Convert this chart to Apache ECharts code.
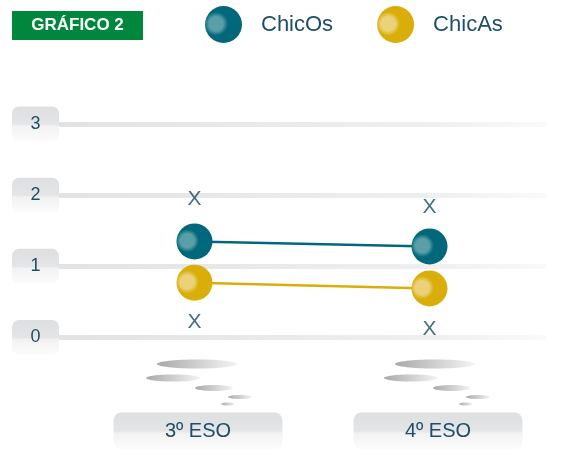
<!DOCTYPE html>
<html>
<head>
<meta charset="utf-8">
<script src="https://cdn.jsdelivr.net/npm/echarts@6/dist/echarts.min.js"></script>
<style>
  html, body { margin: 0; padding: 0; background: #fff; }
  #chart { width: 561px; height: 451px; }
</style>
</head>
<body>
<div id="chart"></div>
<script>
// data
const cursos = ['3º ESO', '4º ESO']
const chicos = [1.35, 1.28]
const chicas = [0.77, 0.69]
const limSup = [1.94, 1.83]
const limInf = [0.22, 0.11]

const FONT = "'Liberation Sans Narrow', 'Liberation Sans', Arial, sans-serif"
const TXT = '#1e4f64'
const TEAL = '#00687a'
const GOLD = '#d9ae08'

const gloss = (light, base) => new echarts.graphic.RadialGradient(0.3, 0.48, 0.32, [
  { offset: 0, color: light },
  { offset: 0.6, color: light },
  { offset: 1, color: base }
])
const boxFill = () => new echarts.graphic.LinearGradient(0, 0, 0, 1, [
  { offset: 0, color: '#dedfe1' },
  { offset: 0.5, color: '#e4e5e7' },
  { offset: 0.56, color: '#f2f2f3' },
  { offset: 1, color: '#fcfcfc' }
])
const smokeFill = () => new echarts.graphic.LinearGradient(0, 0, 1, 0, [
  { offset: 0, color: '#a9a9a9' },
  { offset: 1, color: '#f4f4f4' }
])

// decorative smoke under each category (relative to the first group)
const smoke = [
  { cx: 197, cy: 364, rx: 40, ry: 4.5 },
  { cx: 173, cy: 378, rx: 27, ry: 3.5 },
  { cx: 214, cy: 388, rx: 19, ry: 3 },
  { cx: 240, cy: 397, rx: 12, ry: 2 },
  { cx: 228, cy: 404, rx: 7, ry: 1.5 }
]
const graphics = []
;[0, 238].forEach((dx) => {
  smoke.forEach((s) => {
    graphics.push({
      type: 'ellipse',
      shape: { cx: s.cx + dx, cy: s.cy, rx: s.rx, ry: s.ry },
      style: { fill: smokeFill() },
      silent: true
    })
  })
})

const chart = echarts.init(document.getElementById('chart'))

chart.setOption({
  animation: false,
  title: {
    left: 12,
    top: 11,
    padding: 0,
    text: '{t|GRÁFICO 2}',
    textStyle: {
      rich: {
        t: {
          width: 131,
          height: 29,
          align: 'center',
          backgroundColor: '#00873e',
          color: '#fff',
          fontFamily: FONT,
          fontWeight: 'bold',
          fontSize: 17
        }
      }
    }
  },
  legend: {
    data: ['ChicOs', 'ChicAs'],
    left: 205,
    top: 6,
    padding: 0,
    icon: 'circle',
    itemWidth: 37,
    itemHeight: 37,
    itemGap: 44,
    textStyle: {
      color: TXT,
      fontFamily: FONT,
      fontSize: 22,
      padding: [0, 0, 0, 14]
    }
  },
  graphic: graphics,
  grid: {
    left: 77,
    right: 14,
    top: 124,
    bottom: 113.5
  },
  xAxis: {
    type: 'category',
    data: cursos,
    boundaryGap: true,
    axisLine: { show: false },
    axisTick: { show: false },
    axisLabel: {
      margin: 75,
      // boxes sit a little to the right of the points, more so for the second one
      formatter: (v, i) => (i === 0 ? '{s0| }' : '{s1| }') + '{b|' + v + '}',
      rich: {
        s0: { width: 7 },
        s1: { width: 17 },
        b: {
          width: 169,
          height: 37,
          align: 'center',
          backgroundColor: boxFill(),
          borderRadius: 8,
          color: TXT,
          fontFamily: FONT,
          fontSize: 20
        }
      }
    }
  },
  yAxis: {
    type: 'value',
    min: 0,
    max: 3,
    interval: 1,
    axisLine: { show: false },
    axisTick: {
      show: true,
      length: 18,
      lineStyle: { color: '#e2e3e5', width: 5 }
    },
    splitLine: {
      lineStyle: {
        width: 5,
        color: new echarts.graphic.LinearGradient(0, 0, 1, 0, [
          { offset: 0, color: '#e2e3e5' },
          { offset: 0.75, color: '#eeeff0' },
          { offset: 1, color: '#fafafa' }
        ])
      }
    },
    axisLabel: {
      margin: 18,
      formatter: (v) => '{b|' + v + '}',
      rich: {
        b: {
          width: 47,
          height: 35,
          align: 'center',
          backgroundColor: boxFill(),
          borderRadius: 7,
          color: TXT,
          fontFamily: FONT,
          fontSize: 18
        }
      }
    }
  },
  series: [
    {
      name: 'ChicOs',
      type: 'line',
      data: chicos,
      symbol: 'circle',
      symbolSize: 36,
      z: 4,
      lineStyle: { color: TEAL, width: 2.5 },
      itemStyle: { color: gloss('#5a9ea7', TEAL) }
    },
    {
      name: 'ChicAs',
      type: 'line',
      data: chicas,
      symbol: 'circle',
      symbolSize: 36,
      z: 4,
      lineStyle: { color: GOLD, width: 2.5 },
      itemStyle: { color: gloss('#ebd27a', GOLD) }
    },
    {
      name: 'limites',
      type: 'scatter',
      symbolSize: 1,
      itemStyle: { color: 'rgba(0,0,0,0)' },
      data: cursos.map((c, i) => [i, limSup[i]]).concat(cursos.map((c, i) => [i, limInf[i]])),
      label: {
        show: true,
        position: 'inside',
        formatter: 'X',
        color: '#154a5e',
        fontFamily: FONT,
        fontSize: 21
      }
    }
  ]
})
</script>
</body>
</html>
